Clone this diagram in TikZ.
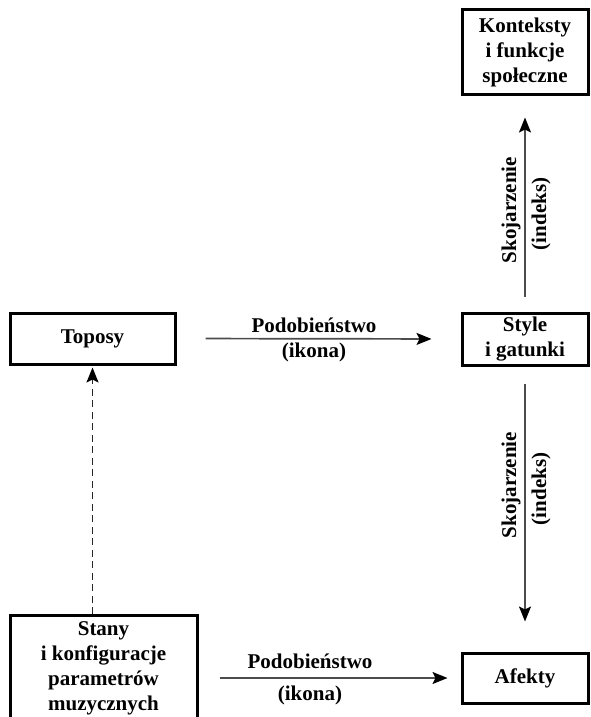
\documentclass[tikz,border=0pt]{standalone}
\usepackage{fontspec}
\setmainfont{Liberation Serif}
\usetikzlibrary{arrows.meta}

\begin{document}
\begin{tikzpicture}[x=1pt,y=-1pt,
		box/.style={draw=black,line width=3pt,align=center,inner sep=0pt,font=\bfseries\fontsize{21}{25}\selectfont},
		lbl/.style={inner sep=0pt,font=\bfseries\fontsize{21}{25}\selectfont},
		arr/.style={draw=black!70,line width=1.7pt,-{Stealth[color=black,length=15pt,width=12pt,inset=3pt]}},
		dasharr/.style={arr,draw=black!85,dash pattern=on 7pt off 4.5pt}]
		\useasboundingbox (0,0) rectangle (590,717);
		\clip (0,0) rectangle (590,717);
		\node [box,minimum width=126pt,minimum height=84pt] (konteksty) at (525,52) {Konteksty\\i funkcje\\społeczne};
		\node [box,minimum width=126pt,minimum height=52pt] (style) at (525,339) {Style\\i gatunki};
		\node [box,minimum width=165pt,minimum height=51pt] (toposy) at (92.5,338.5) {Toposy};
		\node [box,minimum width=126pt,minimum height=50pt] (afekty) at (525,678) {Afekty};
		\node [box,minimum width=187pt,minimum height=106pt] (stany) at (103.5,668.5) {Stany\\i konfiguracje\\parametrów\\muzycznych};
		\draw [arr,shorten <=29pt,shorten >=29pt] (toposy.east) -- (style.west);
		\node [lbl,anchor=base] (podtop) at (314,332) {Podobieństwo};
		\node [lbl,anchor=base] (ikontop) at (314,357) {(ikona)};
		\draw [arr,shorten <=21pt,shorten >=13pt] (stany.east |- afekty.west) -- (afekty.west);
		\node [lbl,anchor=base] (podbot) at (310,668) {Podobieństwo};
		\node [lbl,anchor=base] (ikonbot) at (310,700) {(ikona)};
		\draw [arr,shorten <=15pt,shorten >=22pt] (style.north) -- (konteksty.south);
		\node [lbl,rotate=90,anchor=base] (skojtop) at (516,210) {Skojarzenie};
		\node [lbl,rotate=90,anchor=base] (indtop) at (546,214) {(indeks)};
		\draw [arr,shorten <=17pt,shorten >=30pt] (style.south) -- (afekty.north);
		\node [lbl,rotate=90,anchor=base] (skojbot) at (516,485) {Skojarzenie};
		\node [lbl,rotate=90,anchor=base] (indbot) at (546,489) {(indeks)};
		\draw [dasharr,shorten >=2pt] (toposy.south |- stany.north) -- (toposy.south);
\end{tikzpicture}
\end{document}
